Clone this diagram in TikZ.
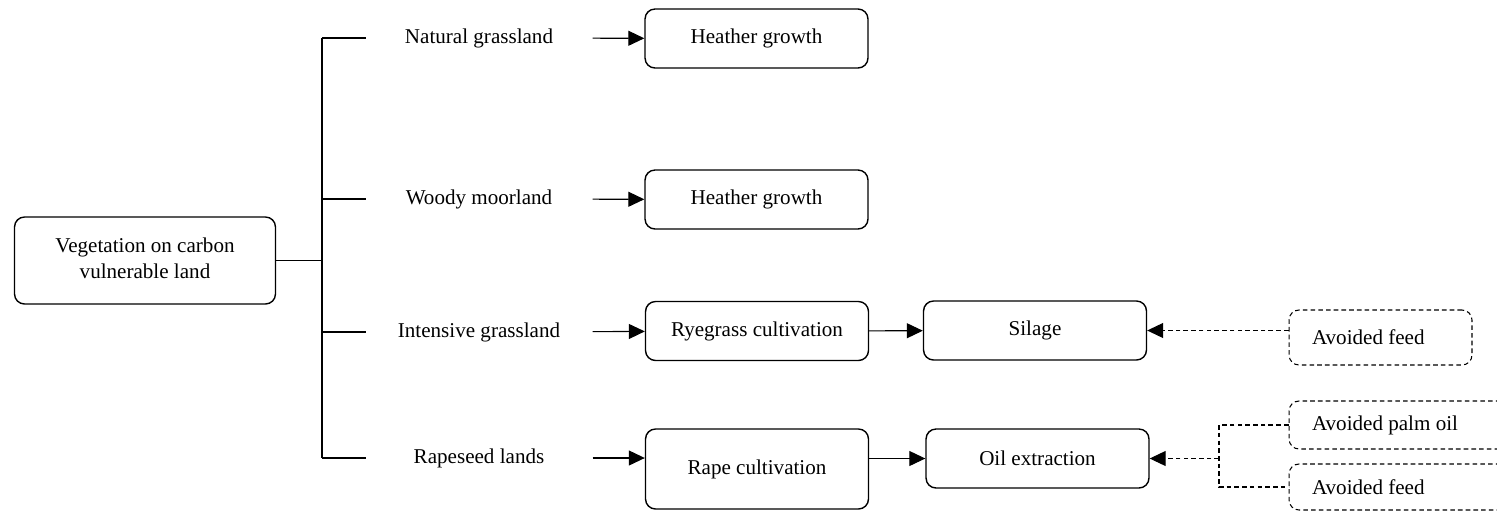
\documentclass[tikz,border=0pt]{standalone}
\usepackage{fontspec}
\setmainfont{Liberation Serif}
\usetikzlibrary{arrows.meta}

\begin{document}
\begin{tikzpicture}[x=0.02cm,y=-0.02cm,line width=0.6pt,
                    font=\fontsize{12}{14.4}\selectfont,
                    box/.style={draw,rounded corners=0.2cm,line width=0.8pt,
                                inner sep=0pt,minimum width=4.46cm,minimum height=1.18cm},
                    avoid box/.style={draw,dashed,dash pattern=on 2.6pt off 1.8pt,rounded corners=0.2cm,
                                inner xsep=0.46cm,inner ysep=0pt},
                    label node/.style={inner sep=0pt,minimum width=4.52cm},
                    arr/.style={-{Triangle[length=0.32cm,width=0.3cm]}}]

  \useasboundingbox (0,0) rectangle (1497,511);

  \node[box,minimum width=5.22cm,minimum height=1.74cm] (root) at (145,260.5)
    {\begin{tabular}{@{}c@{}}Vegetation on carbon\\vulnerable land\end{tabular}};

  \node[label node] (nat) at (479,38)  {Natural grassland};
  \node[label node] (woo) at (479,199) {Woody moorland};
  \node[label node] (int) at (479,332) {Intensive grassland};
  \node[label node] (rap) at (479,458) {Rapeseed lands};

  \node[box] (heat1) at (756.5,38.5)  {Heather growth};
  \node[box] (heat2) at (756.5,199.5) {Heather growth};
  \node[box] (rye)   at (757,331)     {Ryegrass cultivation};
  \node[box,minimum height=1.6cm] (rape) at (757,469) {Rape cultivation};
  \node[box] (sil)   at (1035,330.5)  {Silage};
  \node[box] (oil)   at (1037.5,458.5) {Oil extraction};

  \node[avoid box,minimum height=1.1cm] (feed1) at (1380.5,337.5)
    {\makebox[2.74cm][l]{Avoided feed}};
  \node[avoid box,minimum height=0.96cm] (palm) at (1419,425)
    {\makebox[4.28cm][l]{Avoided palm oil}};
  \node[avoid box,minimum height=0.92cm] (feed2) at (1419,487)
    {\makebox[4.28cm][l]{Avoided feed}};

  \coordinate (t1) at (322,38);
  \coordinate (tm) at (322,260.5);
  \coordinate (t4) at (322,458);
  \coordinate (fk) at (1219,458.5);

  % tree on the left
  \draw (t1) -- (t4);
  \draw[line width=0.9pt] (root) -- (tm);
  \draw (t1) -- (nat);
  \draw (woo.west -| t1) -- (woo);
  \draw (int.west -| t1) -- (int);
  \draw (t4) -- (rap);

  % flows
  \path[arr]
    (nat) edge (heat1)
    (woo) edge (heat2)
    (int) edge (rye)
    (rap.east) edge (rap.east -| rape.west)
    (rye) edge (sil)
    (rape.east |- oil.west) edge (oil.west);

  % avoided products
  \draw[arr,dashed,dash pattern=on 2.6pt off 1.8pt] (feed1.west |- sil.east) -- (sil.east);
  \draw[dashed,dash pattern=on 2.6pt off 1.8pt] (palm.west) -| (fk) |- (feed2.west);
  \draw[arr,dashed,dash pattern=on 2.6pt off 1.8pt] (fk) -- (oil.east);
\end{tikzpicture}
\end{document}
